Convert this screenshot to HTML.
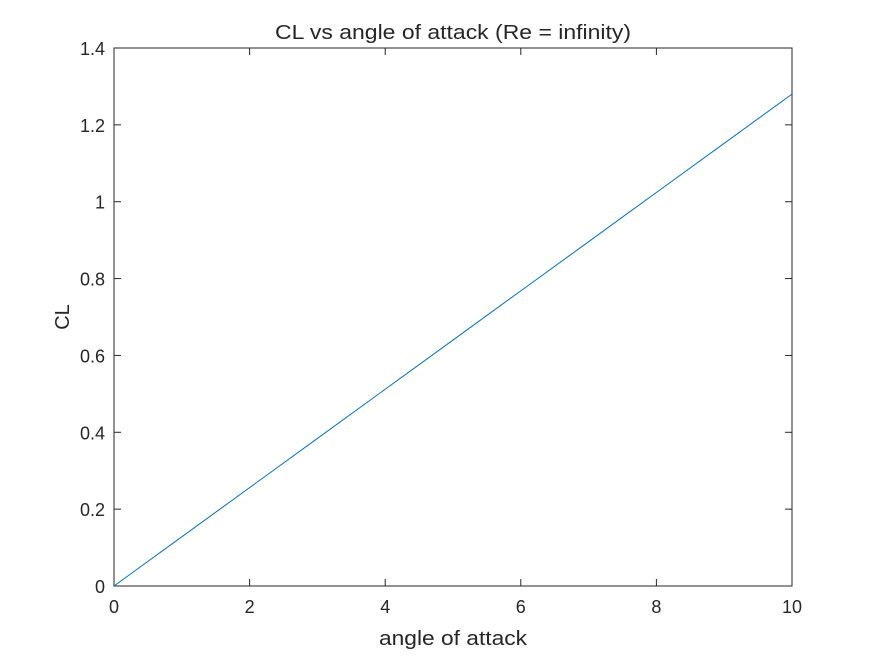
<!DOCTYPE html>
<html><head><meta charset="utf-8"><style>
body{margin:0;background:#fff;}
svg text{font-family:"Liberation Sans",Arial,sans-serif;fill:#262626;}
</style></head><body>
<svg id="chart" width="875" height="656"></svg>
<script>
const xValues=[0,1,2,3,4,5,6,7,8,9,10];
const clValues=[0,0.128,0.256,0.384,0.512,0.64,0.768,0.896,1.024,1.152,1.28];
const xTicks=[0,2,4,6,8,10];
const yTicks=[0,0.2,0.4,0.6,0.8,1,1.2,1.4];
const L=114,R=792,T=48,B=586;
const sx=v=>L+(v-0)/(10-0)*(R-L);
const sy=v=>B-(v-0)/(1.4-0)*(B-T);
const svg=document.getElementById('chart');
const NS='http://www.w3.org/2000/svg';
function mk(tag,attrs,parent){const e=document.createElementNS(NS,tag);for(const k in attrs)e.setAttribute(k,attrs[k]);(parent||svg).appendChild(e);return e;}
const box=mk('rect',{x:L,y:T,width:R-L,height:B-T,fill:'#fff',stroke:'#262626','stroke-width':1});


xTicks.forEach(v=>{
  const x=sx(v);
  mk('line',{x1:x,y1:B,x2:x,y2:B-7,stroke:'#262626'});
  mk('line',{x1:x,y1:T,x2:x,y2:T+7,stroke:'#262626'});
  const t=mk('text',{x:x,y:B+27,'text-anchor':'middle','font-size':18});
  t.textContent=v;
  
  
});
yTicks.forEach(v=>{
  const y=sy(v);
  mk('line',{x1:L,y1:y,x2:L+7,y2:y,stroke:'#262626'});
  mk('line',{x1:R,y1:y,x2:R-7,y2:y,stroke:'#262626'});
  const t=mk('text',{x:L-9,y:y+7,'text-anchor':'end','font-size':18});
  t.textContent=v;
  
  
});
const line=mk('polyline',{points:xValues.map((x,i)=>sx(x)+','+sy(clValues[i])).join(' '),fill:'none',stroke:'#0072bd','stroke-width':1});


const title=mk('text',{x:(L+R)/2,y:39,'text-anchor':'middle','font-size':20,textLength:356,lengthAdjust:'spacingAndGlyphs'});
title.textContent='CL vs angle of attack (Re = infinity)';


const xl=mk('text',{x:(L+R)/2,y:645,'text-anchor':'middle','font-size':20,textLength:148,lengthAdjust:'spacingAndGlyphs'});
xl.textContent='angle of attack';


const yl=mk('text',{x:0,y:0,'text-anchor':'middle','font-size':20,transform:'translate(69,317) rotate(-90)'});
yl.textContent='CL';


</script>
</body></html>
